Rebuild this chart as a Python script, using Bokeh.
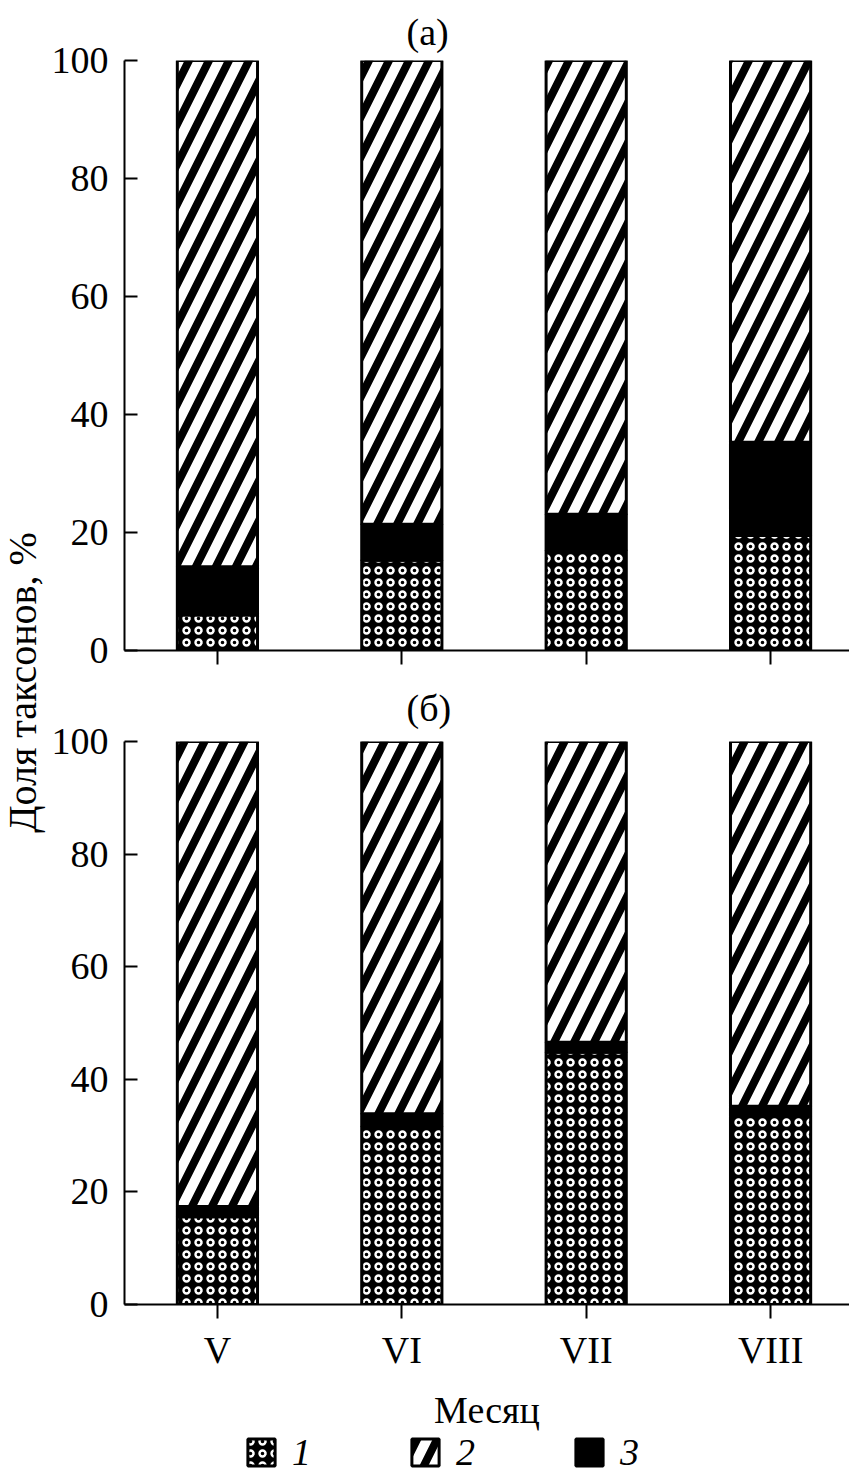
from math import pi
from bokeh.plotting import figure
from bokeh.models import (Range1d, FixedTicker, Label, Legend, LegendItem,
                          ColumnDataSource, Title)
from bokeh.layouts import row, column
from bokeh.transform import stack
from bokeh.embed import file_html
from bokeh.resources import INLINE

# ---------------- data ----------------
months = ["V", "VI", "VII", "VIII"]
a_s1 = [6.0, 15.3, 17.0, 19.5]
a_s3 = [8.2, 6.1, 6.1, 15.8]
a_s2 = [85.8, 78.6, 76.9, 64.7]
b_s1 = [15.6, 31.6, 44.8, 33.4]
b_s3 = [1.8, 2.3, 1.8, 1.8]
b_s2 = [82.6, 66.1, 53.4, 64.8]
y_ticks = [0, 20, 40, 60, 80, 100]
legend_labels = ["1", "2", "3"]
panel_titles = ["(а)", "(б)"]
x_label = "Месяц"
y_label = "Доля таксонов, %"

FONT = "Liberation Serif"
FS = "38px"
xpos = list(range(1, len(months) + 1))
BAR_W = 0.435
FRAME_W = 725
LEFT = 75

STYLE1 = dict(fill_color="black", hatch_pattern="ring", hatch_color="white",
              hatch_scale=12, hatch_weight=2.4)
STYLE2 = dict(fill_color="white", hatch_pattern="right_diagonal_line",
              hatch_color="black", hatch_scale=40, hatch_weight=8)
STYLE3 = dict(fill_color="black")


def add_bars(p, src):
    common = dict(x="x", width=BAR_W, source=src, line_color="black", line_width=3)
    r1 = p.vbar(bottom=0, top=stack("s1"), **STYLE1, **common)
    r3 = p.vbar(bottom=stack("s1"), top=stack("s1", "s3"), **STYLE3, **common)
    r2 = p.vbar(bottom=stack("s1", "s3"), top=stack("s1", "s3", "s2"),
                **STYLE2, **common)
    return r1, r2, r3


def make_panel(s1, s2, s3, title, frame_h, top, bottom, show_labels, t_standoff):
    src = ColumnDataSource(dict(x=xpos, s1=s1, s2=s2, s3=s3))
    p = figure(frame_width=FRAME_W, frame_height=frame_h, title=None,
               x_range=Range1d(0.496, 4.428), y_range=Range1d(0, 100),
               output_backend="svg", toolbar_location=None,
               min_border_left=LEFT, min_border_right=0,
               min_border_top=top, min_border_bottom=bottom)
    p.outline_line_color = None
    p.xgrid.visible = False
    p.ygrid.visible = False
    add_bars(p, src)

    # y axis
    ya = p.yaxis[0]
    ya.ticker = FixedTicker(ticks=y_ticks)
    ya.major_tick_in = 13
    ya.major_tick_out = 0
    ya.minor_tick_in = 0
    ya.minor_tick_out = 0
    ya.axis_line_width = 2
    ya.major_tick_line_width = 2
    ya.major_label_text_font = FONT
    ya.major_label_text_font_size = FS
    ya.major_label_standoff = 16
    ya.major_label_text_color = "black"

    # x axis
    xa = p.xaxis[0]
    xa.axis_line_width = 2
    xa.minor_tick_in = 0
    if show_labels:
        xa.ticker = FixedTicker(ticks=xpos)
        xa.major_label_overrides = {x: m for x, m in zip(xpos, months)}
        xa.major_tick_in = 0
        xa.major_tick_out = 14
        xa.minor_tick_out = 0
        xa.major_tick_line_width = 2
        xa.major_label_text_font = FONT
        xa.major_label_text_color = "black"
        xa.major_label_text_font_size = FS
        xa.major_label_standoff = 10
    else:
        # ticks only, no labels: minor ticks at the category positions
        xa.ticker = FixedTicker(ticks=[], minor_ticks=xpos)
        xa.minor_tick_out = 14
        xa.minor_tick_line_width = 2
        xa.minor_tick_line_color = "black"
        xa.major_label_standoff = 0

    p.add_layout(Title(text=title, align="left", offset=282, standoff=t_standoff,
                       text_font=FONT, text_font_size=FS,
                       text_font_style="normal", text_color="black"), "above")
    return p, src


pa, src_a = make_panel(a_s1, a_s2, a_s3, panel_titles[0], 590, 58, 22, False, 16)
pb, src_b = make_panel(b_s1, b_s2, b_s3, panel_titles[1], 563, 67, 84, True, 25)

# ---- bottom strip: x-axis title and legend ----
# the legend swatches come from renderers of the panel-(б) data whose bars
# lie outside this strip's ranges, so only the legend is visible here
pl = figure(frame_width=FRAME_W, frame_height=90, x_range=Range1d(-3, -2),
            y_range=Range1d(-3, -2), x_axis_location=None, y_axis_location=None,
            min_border_left=LEFT, min_border_right=0, min_border_top=0,
            min_border_bottom=0, toolbar_location=None, output_backend="svg")
pl.outline_line_color = None
for g in pl.grid:
    g.visible = False
e1, e2, e3 = add_bars(pl, src_b)
legend = Legend(items=[LegendItem(label=legend_labels[0], renderers=[e1]),
                       LegendItem(label=legend_labels[1], renderers=[e2]),
                       LegendItem(label=legend_labels[2], renderers=[e3])],
                orientation="horizontal", location=(171, 4),
                glyph_width=34, glyph_height=34, label_standoff=14,
                label_width=20, spacing=96,
                label_text_font=FONT, label_text_font_size=FS,
                label_text_font_style="italic", label_text_color="black",
                border_line_color=None, background_fill_alpha=0,
                padding=0, margin=0)
pl.add_layout(legend, "center")
pl.add_layout(Label(x=FRAME_W / 2, y=69, x_units="screen", y_units="screen",
                    text=x_label, text_align="center", text_baseline="middle",
                    text_font=FONT, text_font_size=FS, text_color="black"))

H = 1474
lab = figure(frame_width=48, frame_height=H, x_range=Range1d(0, 48),
             y_range=Range1d(0, H), x_axis_location=None, y_axis_location=None,
             min_border=0, toolbar_location=None, output_backend="svg")
lab.outline_line_color = None
for g in lab.grid:
    g.visible = False
lab.add_layout(Label(x=22, y=H - 682, text=y_label, angle=pi / 2,
                     text_align="center", text_baseline="middle",
                     text_font=FONT, text_font_size="40px", text_color="black"))

layout = row(lab, column(pa, pb, pl))
open("out.html", "w").write(file_html(layout, INLINE))
